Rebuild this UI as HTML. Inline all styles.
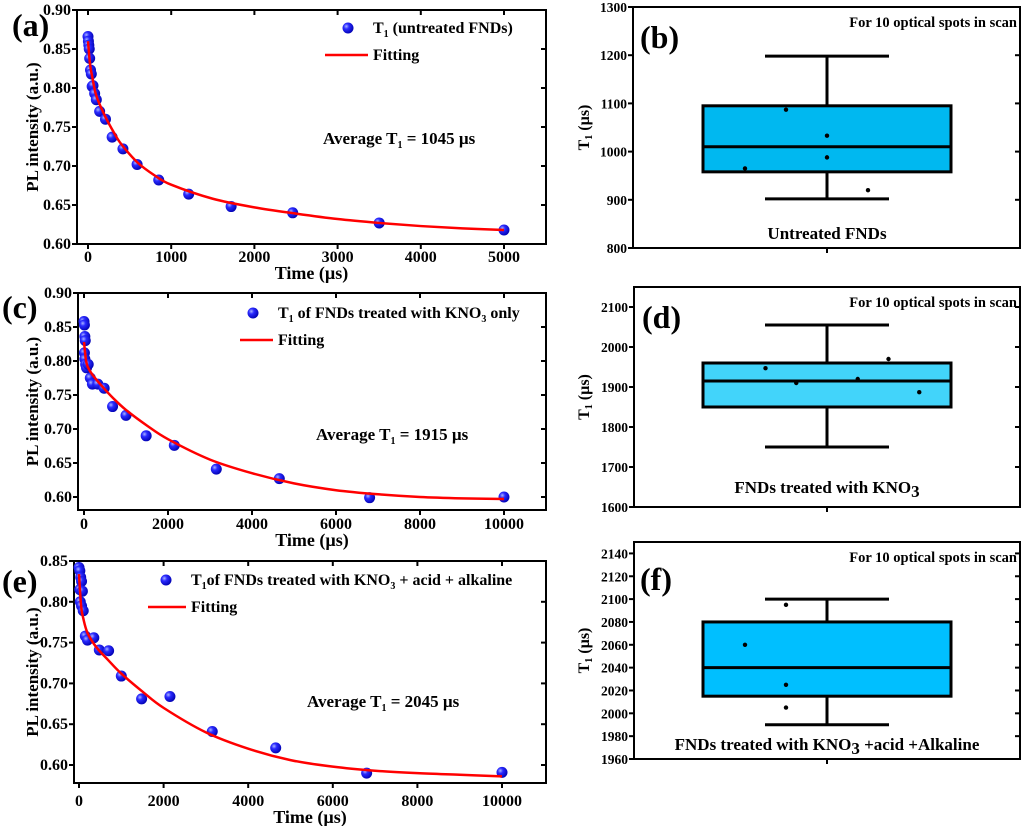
<!DOCTYPE html>
<html><head><meta charset="utf-8"><style>
body{margin:0;background:#fff}
svg{display:block;font-family:"Liberation Serif",serif;font-weight:bold}
</style></head><body>
<svg id="s" width="1024" height="826" viewBox="0 0 1024 826">
<defs><radialGradient id="ball" cx="0.35" cy="0.35" r="0.7"><stop offset="0" stop-color="#aab4ff"/><stop offset="0.35" stop-color="#2a2aff"/><stop offset="1" stop-color="#0000b0"/></radialGradient></defs>
</svg>
<script>
// Panel (a)
const aT=[0,5,10,15,20,30,40,50,60,80,100,140,210,290,420,590,850,1210,1720,2460,3500,5000];
const aY=[0.866,0.86,0.855,0.85,0.838,0.823,0.818,0.802,0.803,0.793,0.785,0.77,0.76,0.737,0.722,0.702,0.682,0.664,0.648,0.64,0.627,0.618];
const aFitT=[0,25,50,100,200,300,400,600,800,1000,1500,2000,2500,3000,3500,4000,4500,5000];
const aFitY=[0.86,0.83,0.815,0.79,0.765,0.745,0.728,0.704,0.688,0.676,0.658,0.647,0.639,0.632,0.627,0.623,0.62,0.618];
// Panel (c)
const cT=[0,10,20,30,10,20,40,60,100,150,200,330,480,680,1000,1480,2150,3150,4650,6800,10000];
const cY=[0.858,0.853,0.836,0.83,0.812,0.803,0.795,0.79,0.795,0.775,0.766,0.766,0.76,0.733,0.72,0.69,0.676,0.641,0.627,0.599,0.6];
const cFitT=[0,50,100,200,400,700,1000,1500,2000,3000,4000,5000,6000,7000,8000,9000,10000];
const cFitY=[0.828,0.8,0.79,0.78,0.765,0.745,0.728,0.705,0.685,0.655,0.635,0.62,0.61,0.604,0.6,0.598,0.597];
// Panel (e)
const eT=[0,20,40,60,20,80,30,60,100,150,200,350,480,700,1000,1480,2150,3150,4650,6800,10000];
const eY=[0.842,0.838,0.83,0.825,0.815,0.813,0.8,0.795,0.789,0.758,0.753,0.756,0.741,0.74,0.709,0.681,0.684,0.641,0.621,0.59,0.591];
const eFitT=[0,50,100,200,400,700,1000,1500,2000,3000,4000,5000,6000,7000,8000,9000,10000];
const eFitY=[0.834,0.795,0.78,0.762,0.745,0.728,0.712,0.69,0.67,0.64,0.62,0.606,0.598,0.593,0.59,0.588,0.586];
// Box stats [whiskerLow, q1, median, q3, whiskerHigh]
const bStats=[902,958,1010,1095,1198];
const dStats=[1750,1850,1915,1960,2055];
const fStats=[1990,2015,2040,2080,2100];
const bPts=[[-2,965],[-1,1087],[0,1033],[0,988],[1,920]];
const dPts=[[-1.5,1947],[-0.75,1910],[0.75,1920],[1.5,1970],[2.25,1887]];
const fPts=[[-2,2060],[-1,2095],[-1,2025],[-1,2005]];
const aTicksX=[0,1000,2000,3000,4000,5000];
const cTicksX=[0,2000,4000,6000,8000,10000];
const aTicksY=[0.60,0.65,0.70,0.75,0.80,0.85,0.90];
const eTicksY=[0.60,0.65,0.70,0.75,0.80,0.85];
const bTicks=[800,900,1000,1100,1200,1300];
const dTicks=[1600,1700,1800,1900,2000,2100];
const fTicks=[1960,1980,2000,2020,2040,2060,2080,2100,2120,2140];

const S=document.getElementById('s');const NS='http://www.w3.org/2000/svg';
function mk(t,a,p){const e=document.createElementNS(NS,t);for(const k in a)e.setAttribute(k,a[k]);(p||S).appendChild(e);return e;}
function txt(x,y,s,size,anchor,p){const e=mk('text',{x:x,y:y,'font-size':size,'text-anchor':anchor||'start'},p);e.innerHTML=s;return e;}
function smooth(P){let d='M'+P[0][0]+','+P[0][1];
  for(let i=0;i<P.length-1;i++){const p0=P[Math.max(i-1,0)],p1=P[i],p2=P[i+1],p3=P[Math.min(i+2,P.length-1)];
    const c1=[p1[0]+(p2[0]-p0[0])/6,p1[1]+(p2[1]-p0[1])/6],c2=[p2[0]-(p3[0]-p1[0])/6,p2[1]-(p3[1]-p1[1])/6];
    d+=' C'+c1[0]+','+c1[1]+' '+c2[0]+','+c2[1]+' '+p2[0]+','+p2[1];}
  return d;}

function line(P,fr,ticksX,ticksY,yDec,xT,yV,fT,fY,lab,lx,ly,leg,legX,legY,fitLineX,avg,avgX,avgY,xlY){
  const g=mk('g',{});
  
  
  const sx=v=>fr.x0+(v-fr.t0)/(fr.t1-fr.t0)*(fr.x1-fr.x0);
  const sy=v=>fr.y1-(v-fr.v0)/(fr.v1-fr.v0)*(fr.y1-fr.y0);
  const frame=mk('rect',{x:fr.X0,y:fr.y0,width:fr.X1-fr.X0,height:fr.Y1-fr.y0,fill:'none',stroke:'#000','stroke-width':2},g);
  
  
  ticksX.forEach(v=>{const x=sx(v);mk('line',{x1:x,x2:x,y1:fr.Y1,y2:fr.Y1+5,stroke:'#000','stroke-width':2},g);mk('line',{x1:x,x2:x,y1:fr.y0,y2:fr.y0+5,stroke:'#000','stroke-width':2},g);
    const t=txt(x,xlY,String(v),16,'middle',g);});
  ticksY.forEach(v=>{const y=sy(v);mk('line',{x1:fr.X0-5,x2:fr.X0,y1:y,y2:y,stroke:'#000','stroke-width':2},g);mk('line',{x1:fr.X1-5,x2:fr.X1,y1:y,y2:y,stroke:'#000','stroke-width':2},g);
    const t=txt(fr.X0-6,y+5,v.toFixed(yDec),16,'end',g);});
  const xt=txt((fr.X0+fr.X1)/2,xlY+17,'Time (µs)',18,'middle',g);
  
  const cy=(fr.y0+fr.Y1)/2;
  const yt=txt(0,0,'PL intensity (a.u.)',17,'middle',g);yt.setAttribute('transform','translate(38,'+cy+') rotate(-90)');
  
  xT.forEach((t,i)=>{const c=mk('circle',{cx:sx(t),cy:sy(yV[i]),r:5.5,fill:'url(#ball)'},g);
    });
  const pl=mk('path',{d:smooth(fT.map((t,i)=>[sx(t),sy(fY[i])])),fill:'none',stroke:'#f00','stroke-width':2.5},g);
  
  const L=txt(lx,ly,'('+lab+')',32,'start',g);
  const ld=mk('circle',{cx:legX-25,cy:legY-5,r:5.5,fill:'url(#ball)'},g);
  const lt=txt(legX,legY,leg,16,'start',g);
  const ll=mk('line',{x1:fitLineX,x2:legX-5,y1:legY+22,y2:legY+22,stroke:'#f00','stroke-width':2.5},g);
  const lf=txt(legX,legY+27,'Fitting',16,'start',g);
  const at=txt(avgX,avgY,avg,17,'start',g);
}
function box(fr,ticks,st,pts,fill,lab,lx,ly,bottom,ty){
  const g=mk('g',{});
  
  
  const sy=v=>fr.Y1-(v-fr.v0)/(fr.v1-fr.v0)*(fr.Y1-fr.y0);
  const cx=827,half=124,cap=62,step=41;
  const r=mk('rect',{x:fr.X0,y:fr.y0,width:fr.X1-fr.X0,height:fr.Y1-fr.y0,fill:'none',stroke:'#000','stroke-width':2},g);
  
  ticks.forEach(v=>{const y=sy(v);mk('line',{x1:fr.X0-5,x2:fr.X0,y1:y,y2:y,stroke:'#000','stroke-width':2},g);mk('line',{x1:fr.X1-5,x2:fr.X1,y1:y,y2:y,stroke:'#000','stroke-width':2},g);
    const t=txt(fr.X0-6,y+5,String(v),13.5,'end',g);});
  mk('line',{x1:cx,x2:cx,y1:fr.Y1,y2:fr.Y1+5,stroke:'#000','stroke-width':2},g);
  const w=mk('line',{x1:cx,x2:cx,y1:sy(st[0]),y2:sy(st[4]),stroke:'#000','stroke-width':3},g);
  [st[0],st[4]].forEach(v=>{const c=mk('line',{x1:cx-cap,x2:cx+cap,y1:sy(v),y2:sy(v),stroke:'#000','stroke-width':3},g);});
  const b=mk('rect',{x:cx-half,y:sy(st[3]),width:2*half,height:sy(st[1])-sy(st[3]),fill:fill,stroke:'#000','stroke-width':3},g);
  
  const m=mk('line',{x1:cx-half,x2:cx+half,y1:sy(st[2]),y2:sy(st[2]),stroke:'#000','stroke-width':3},g);
  pts.forEach(p=>{const c=mk('circle',{cx:cx+p[0]*step,cy:sy(p[1]),r:2.2,fill:'#000'},g);});
  const L=txt(lx,ly,'('+lab+')',32,'start',g);
  const f=txt(1017,fr.y0+20,'For 10 optical spots in scan',14.5,'end',g);
  const bt=txt(cx,ty,bottom,17,'middle',g);
  const yt=txt(0,0,'T<tspan font-size="10" dy="3">1</tspan><tspan dy="-3"> (µs)</tspan>',16,'middle',g);
  yt.setAttribute('transform','translate(589,'+((fr.y0+fr.Y1)/2)+') rotate(-90)');
  
}
const T1='T<tspan font-size="10" dy="4">1</tspan><tspan dy="-4">';
line('a',{X0:77,X1:546,y0:10,Y1:244,x0:88,x1:504,t0:0,t1:5000,y1:244,v0:0.60,v1:0.90},aTicksX,aTicksY,2,aT,aY,aFitT,aFitY,'a',12,36,
  T1+' (untreated FNDs)</tspan>',373,33,325,'Average '+T1+' = 1045 µs</tspan>',323,144,262);
line('c',{X0:78,X1:546,y0:293,Y1:510,x0:84,x1:504,t0:0,t1:10000,y1:497,v0:0.60,v1:0.90},cTicksX,aTicksY,2,cT,cY,cFitT,cFitY,'c',2,318,
  T1+' of FNDs treated with KNO<tspan font-size="10" dy="4">3</tspan><tspan dy="-4"> only</tspan></tspan>',278,318,240,'Average '+T1+' = 1915 µs</tspan>',316,440,529);
line('e',{X0:74,X1:546,y0:561,Y1:783,x0:79,x1:502,t0:0,t1:10000,y1:765,v0:0.60,v1:0.85},cTicksX,eTicksY,2,eT,eY,eFitT,eFitY,'e',2,592,
  T1+'of FNDs treated with KNO<tspan font-size="10" dy="4">3</tspan><tspan dy="-4"> + acid + alkaline</tspan></tspan>',191,585,148,'Average '+T1+' = 2045 µs</tspan>',307,707,806);
box({X0:633,X1:1020,y0:7,Y1:248,v0:800,v1:1300},bTicks,bStats,bPts,'#00b8f0','b',640,48,'Untreated FNDs',239);
box({X0:634,X1:1020,y0:287,Y1:507,v0:1600,v1:2150},dTicks,dStats,dPts,'#42d4fa','d',642,328,'FNDs treated with KNO<tspan dy="4">3</tspan>',493);
box({X0:634,X1:1020,y0:542,Y1:759,v0:1960,v1:2150},fTicks,fStats,fPts,'#00bfff','f',640,590,'FNDs treated with KNO<tspan dy="4">3</tspan><tspan dy="-4"> +acid +Alkaline</tspan>',750);
</script>
</body></html>
